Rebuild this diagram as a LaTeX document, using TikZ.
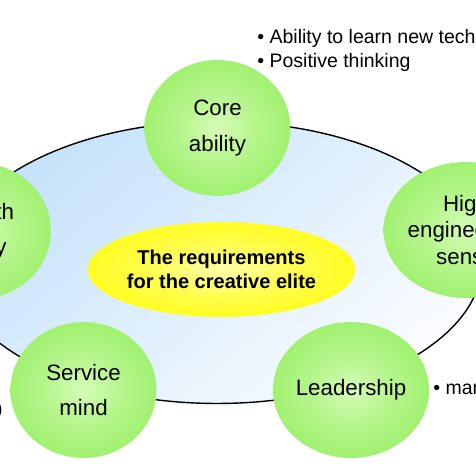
\documentclass[tikz,border=0pt]{standalone}
\usepackage{fontspec}
\setmainfont{Liberation Sans}
\usetikzlibrary{shapes.geometric}

\definecolor{ballin}{RGB}{214,252,184}
\definecolor{ballout}{RGB}{146,238,92}
\definecolor{elitein}{RGB}{255,255,170}
\definecolor{eliteout}{RGB}{255,252,0}
\definecolor{ringtop}{RGB}{196,226,250}
\definecolor{ringbot}{RGB}{250,252,255}
\pgfdeclareradialshading{greenball}{\pgfpoint{0bp}{0bp}}{color(0bp)=(ballin); color(12bp)=(ballin!55!ballout); color(34bp)=(ballout); color(50bp)=(ballout)}
\pgfdeclareradialshading{yellowball}{\pgfpoint{0bp}{0bp}}{color(0bp)=(elitein); color(14bp)=(elitein!45!eliteout); color(34bp)=(eliteout); color(50bp)=(eliteout)}

\begin{document}
\begin{tikzpicture}[
  x=0.02cm, y=-0.02cm,
  ring/.style={
    ellipse, draw=black, line width=0.8pt,
    minimum width=10.6cm, minimum height=5.64cm,
    top color=ringtop, bottom color=ringbot, shading angle=40
  },
  ball/.style={
    ellipse, inner sep=0pt,
    minimum width=2.92cm, minimum height=2.72cm,
    shade, shading=greenball, align=center,
    font=\fontsize{12.7}{20}\selectfont
  },
  elite/.style={
    ellipse, inner sep=0pt,
    minimum width=4.46cm, minimum height=1.9cm,
    shade, shading=yellowball, align=center,
    font=\fontsize{11.4}{13.7}\selectfont\bfseries
  },
  note/.style={
    anchor=west, inner sep=0pt, align=left,
    font=\fontsize{11.1}{13.7}\selectfont
  }
]
\useasboundingbox (0,0) rectangle (476,476);
\clip (0,0) rectangle (476,476);

%% Background ring
\node[ring] (base) at (217,262.5) {};

%% Requirement balls round the ring
\node[ball] (core)    at (217.5,128) {Core\\ability};
\node[ball] (growth)  at (-22,231)   {Growth\\ability};
\node[ball, font=\fontsize{12.7}{15}\selectfont] (high) at (466,230) {High\\engineering\\sense};
\node[ball] (service) at (83.5,390)  {Service\\mind};
\node[ball] (lead)    at (351,390)   {Leadership};

%% Centre
\node[elite] (req) at (221.5,269.5) {The requirements\\for the creative elite};

%% Notes beside the balls
\node[note] (corenote) at (257,50)  {• Ability to learn new technology\\• Positive thinking};
\node[note] (leadnote) at (433,390) {• management};
\node[note, anchor=east] (servnote) at (3,410) {)};

\end{tikzpicture}
\end{document}
